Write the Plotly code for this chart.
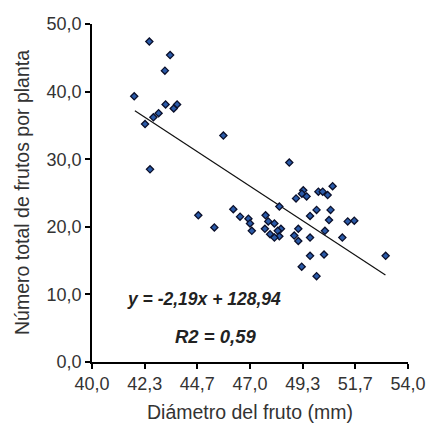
import plotly.graph_objects as go

# Diámetro del fruto (mm) y número total de frutos por planta
diametro = [42.54, 43.46, 43.23, 41.87, 43.26, 43.77, 43.62, 42.95, 42.72, 42.35, 42.57, 45.82,
            48.74, 50.66, 49.36, 49.30, 50.03, 50.22, 50.44, 49.51, 49.04, 48.30, 46.26, 49.95,
            50.57, 44.71, 46.56, 47.69, 49.66, 46.93, 50.50, 51.33, 51.62, 47.81, 48.08, 47.00,
            45.42, 47.66, 48.37, 49.14, 47.08, 48.23, 50.32, 47.89, 48.30, 48.96, 48.08, 49.66,
            51.09, 49.14, 49.66, 50.28, 53.01, 49.29, 49.95]
frutos = [47.4, 45.4, 43.1, 39.3, 38.1, 38.1, 37.5, 36.8, 36.2, 35.2, 28.5, 33.5,
          29.5, 26.0, 25.4, 24.9, 25.2, 25.2, 24.7, 24.5, 24.2, 23.0, 22.6, 22.5,
          22.5, 21.7, 21.5, 21.7, 21.6, 21.2, 21.0, 20.8, 20.9, 20.8, 20.5, 20.5,
          19.9, 19.7, 19.7, 19.7, 19.4, 19.4, 19.4, 18.9, 18.6, 18.7, 18.4, 18.4,
          18.4, 17.9, 15.7, 15.9, 15.7, 14.1, 12.7]

# Recta de regresión
pendiente = -2.19
intercepto = 128.94
x_recta = [41.9, 53.0]
y_recta = [pendiente * v + intercepto for v in x_recta]

x_ticks = [40.0, 42 + 1 / 3, 44 + 2 / 3, 47.0, 49 + 1 / 3, 51 + 2 / 3, 54.0]
x_labels = ["40,0", "42,3", "44,7", "47,0", "49,3", "51,7", "54,0"]
y_ticks = [0, 10, 20, 30, 40, 50]
y_labels = ["0,0", "10,0", "20,0", "30,0", "40,0", "50,0"]

FONT = "Liberation Sans, Arial, sans-serif"

fig = go.Figure()
fig.add_trace(go.Scatter(
    x=x_recta, y=y_recta, mode="lines",
    line=dict(color="#111111", width=1.2), hoverinfo="skip", showlegend=False))
fig.add_trace(go.Scatter(
    x=diametro, y=frutos, mode="markers",
    marker=dict(symbol="diamond", size=5.5, color="#2a5aa8",
                line=dict(color="#0a0f2a", width=1.3)),
    showlegend=False))

axis_common = dict(
    showgrid=False, zeroline=False, showline=True, linecolor="#000000", linewidth=1.5,
    ticks="outside", ticklen=5, tickwidth=1.5, tickcolor="#000000", automargin=False,
    tickfont=dict(family=FONT, size=18, color="#333333"),
)

fig.update_layout(
    width=428, height=423,
    margin=dict(l=92, r=20, t=24, b=61),
    plot_bgcolor="white", paper_bgcolor="white",
    font=dict(family=FONT, color="#333333"),
    xaxis=dict(range=[40, 54], tickvals=x_ticks, ticktext=x_labels, **axis_common),
    yaxis=dict(range=[0, 50], tickvals=y_ticks, ticktext=y_labels, **axis_common),
    annotations=[
        dict(x=0.5, y=-0.148, xref="paper", yref="paper", xanchor="center", yanchor="middle",
             text="Diámetro del fruto (mm)", showarrow=False,
             font=dict(family=FONT, size=19.5, color="#333333")),
        dict(x=-0.2215, y=0.5, xref="paper", yref="paper", xanchor="center", yanchor="middle",
             text="Número total de frutos por planta", showarrow=False, textangle=-90,
             font=dict(family=FONT, size=19.5, color="#333333")),
        dict(x=0.105, y=0.185, xref="paper", yref="paper", xanchor="left", yanchor="middle",
             text="<b><i>y = -2,19x + 128,94</i></b>", showarrow=False,
             font=dict(family=FONT, size=17.5, color="#222222")),
        dict(x=0.392, y=0.075, xref="paper", yref="paper", xanchor="center", yanchor="middle",
             text="<b><i>R2 = 0,59</i></b>", showarrow=False,
             font=dict(family=FONT, size=18.5, color="#222222")),
    ],
)

fig.write_html("out.html")
